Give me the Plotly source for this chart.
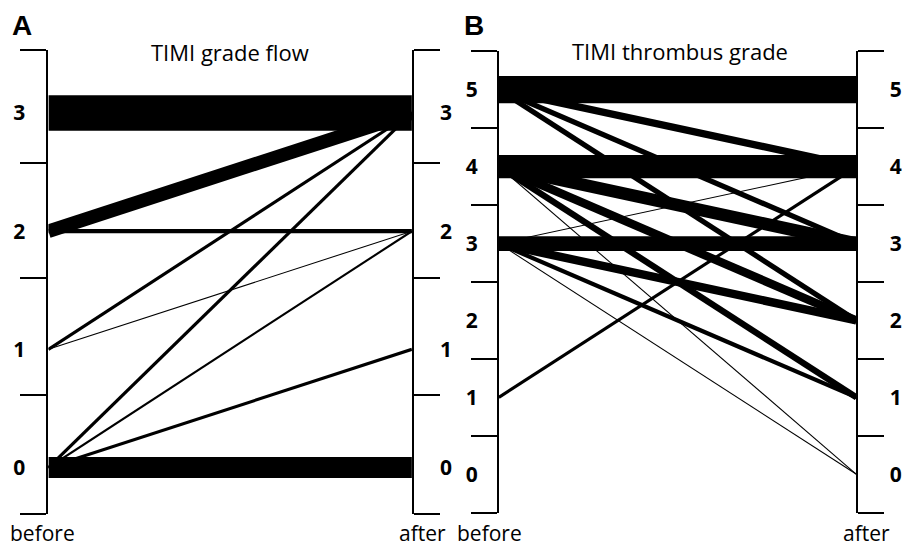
import plotly.graph_objects as go

# ---------------- data ----------------
# Panel A: TIMI grade flow (before -> after), n = patients on each path
a_before = [3, 2, 0, 2, 1, 0, 0, 0, 1]
a_after = [3, 3, 0, 2, 3, 3, 2, 1, 2]
a_n = [34, 13, 20, 4, 3, 3, 2, 3, 1]
a_grades = [0, 1, 2, 3]
a_title = "TIMI grade flow"

# Panel B: TIMI thrombus grade (before -> after)
b_before = [5, 4, 3, 4, 5, 5, 5, 4, 4, 4, 3, 3, 3, 3, 1]
b_after = [5, 4, 3, 3, 4, 3, 2, 2, 1, 0, 4, 2, 1, 0, 4]
b_n = [26, 22, 14, 12, 7, 5, 5, 8, 6, 1, 1, 8, 4, 1, 3]
b_grades = [0, 1, 2, 3, 4, 5]
b_title = "TIMI thrombus grade"

stage_labels = ["before", "after"]

# ---------------- styling ----------------
W, H = 902, 548
PX_PER_PATIENT = 1.05
FONT = "Open Sans"

fig = go.Figure()


def add_paths(before, after, n, xa, ya):
    for b, a, k in zip(before, after, n):
        fig.add_trace(go.Scatter(
            x=[0, 1], y=[b, a], mode="lines",
            line=dict(color="black", width=max(1.0, k * PX_PER_PATIENT)),
            xaxis=xa, yaxis=ya, hoverinfo="skip", showlegend=False,
        ))


def add_anchor(grades, xa, ya):
    # invisible trace so the right-hand (after) axis is drawn
    fig.add_trace(go.Scatter(
        x=[1] * len(grades), y=grades, mode="markers",
        marker=dict(opacity=0, size=1), xaxis=xa, yaxis=ya,
        hoverinfo="skip", showlegend=False,
    ))


add_paths(a_before, a_after, a_n, "x", "y")
add_anchor(a_grades, "x", "y2")
add_paths(b_before, b_after, b_n, "x2", "y3")
add_anchor(b_grades, "x2", "y4")


def yax(rng, grades, minor_vals, side, overlay=None, anchor="x", domain=None, standoff=20):
    d = dict(
        range=rng, tickmode="array", tickvals=grades,
        ticktext=[f"<b>{g}</b>" for g in grades], ticks="",
        tickfont=dict(family=FONT, size=21, color="black"),
        showline=True, linewidth=2, linecolor="black",
        showgrid=False, zeroline=False, fixedrange=True,
        side=side, anchor=anchor, ticklabelstandoff=standoff,
        minor=dict(tickmode="array", tickvals=minor_vals, ticks="outside",
                   ticklen=26, tickwidth=2, tickcolor="black", showgrid=False),
    )
    if overlay:
        d["overlaying"] = overlay
    if domain:
        d["domain"] = domain
    return d


a_rng = [-0.393, 3.533]
a_minor = [-0.39, 0.61, 1.6, 2.58, 3.53]
b_rng = [-0.503, 5.503]
b_minor = [-0.5, 0.5, 1.5, 2.5, 3.5, 4.5, 5.5]

a_dom = [1 - 514 / H, 1 - 50 / H]
b_dom = [1 - 513 / H, 1 - 51 / H]

fig.update_layout(
    width=W, height=H,
    margin=dict(l=0, r=0, t=0, b=0),
    paper_bgcolor="white", plot_bgcolor="white",
    showlegend=False,
    xaxis=dict(domain=[49 / W, 417 / W], range=[0, 1], visible=False, fixedrange=True, anchor="y"),
    xaxis2=dict(domain=[505 / W, 867 / W], range=[0, 1], visible=False, fixedrange=True, anchor="y3"),
    yaxis=yax(a_rng, a_grades, a_minor, "left", anchor="x", domain=a_dom, standoff=17),
    yaxis2=yax(a_rng, a_grades, a_minor, "right", overlay="y", anchor="x", standoff=22),
    yaxis3=yax(b_rng, b_grades, b_minor, "left", anchor="x2", domain=b_dom, standoff=15),
    yaxis4=yax(b_rng, b_grades, b_minor, "right", overlay="y3", anchor="x2", standoff=27),
)

ann = []
ann.append(dict(text="<b>A</b>", x=10 / W, y=1 - 25 / H, xref="paper", yref="paper",
                xanchor="left", yanchor="middle", showarrow=False,
                font=dict(family="Liberation Sans", size=28, color="black")))
ann.append(dict(text="<b>B</b>", x=468 / W, y=1 - 25 / H, xref="paper", yref="paper",
                xanchor="left", yanchor="middle", showarrow=False,
                font=dict(family="Liberation Sans", size=28, color="black")))
ann.append(dict(text=a_title, x=233 / W, y=1 - 52 / H, xref="paper", yref="paper",
                xanchor="center", yanchor="middle", showarrow=False,
                font=dict(family=FONT, size=22, color="black")))
ann.append(dict(text=b_title, x=688 / W, y=1 - 51 / H, xref="paper", yref="paper",
                xanchor="center", yanchor="middle", showarrow=False,
                font=dict(family=FONT, size=22, color="black")))
for cx in [(43, 428), (496, 877)]:
    for lbl, px in zip(stage_labels, cx):
        ann.append(dict(text=lbl, x=px / W, y=1 - 533 / H, xref="paper", yref="paper",
                        xanchor="center", yanchor="middle", showarrow=False,
                        font=dict(family=FONT, size=21, color="black")))
fig.update_layout(annotations=ann)

fig.write_html(
    "out.html",
    config={"displayModeBar": False},
    post_script="document.body.style.margin='0';document.body.style.overflow='hidden';",
)
